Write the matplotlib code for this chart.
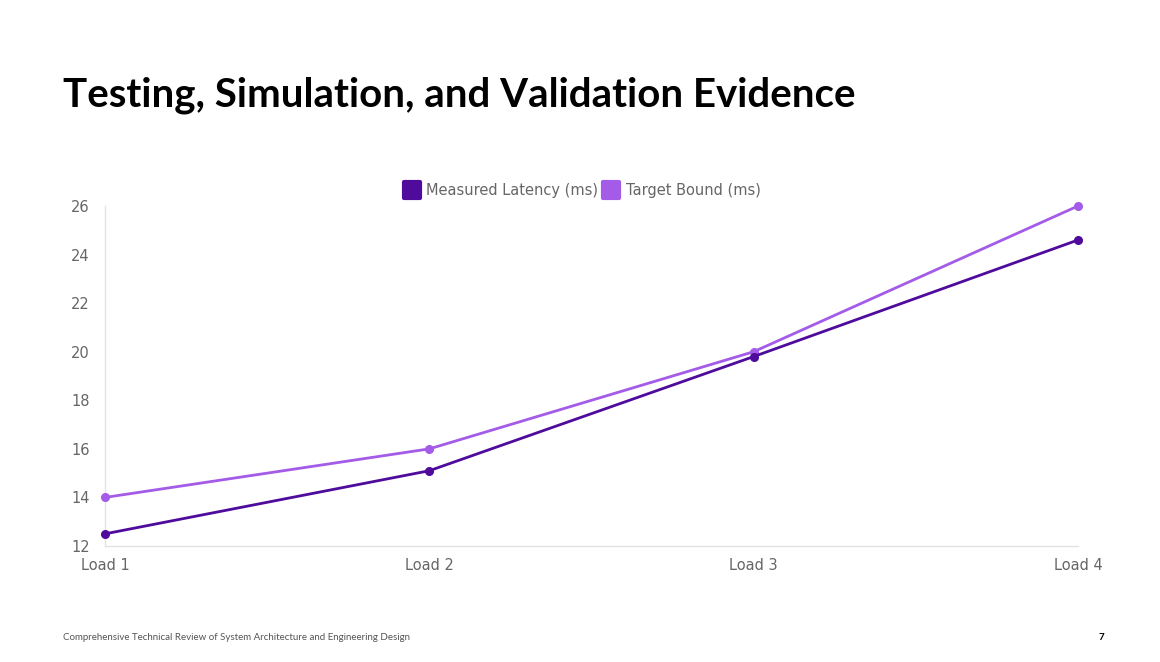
import matplotlib
matplotlib.use("Agg")
import matplotlib.pyplot as plt
from matplotlib.lines import Line2D
from matplotlib.markers import MarkerStyle

categories = ["Load 1", "Load 2", "Load 3", "Load 4"]
measured = [12.5, 15.1, 19.8, 24.6]
target = [14, 16, 20, 26]
y_ticks = [12, 14, 16, 18, 20, 22, 24, 26]

c_meas = "#4E0B9C"
c_targ = "#A35BE8"
tick_col = "#666666"

fig = plt.figure(figsize=(11.6, 6.62), dpi=100)
W, H = 1160, 662
ax = fig.add_axes([105 / W, 1 - 546 / H, (1078 - 105) / W, (546 - 206) / H])

x = list(range(len(categories)))
ax.plot(x, target, color=c_targ, lw=2.0, marker="o", ms=5.5, zorder=3, clip_on=False)
ax.plot(x, measured, color=c_meas, lw=2.0, marker="o", ms=5.5, zorder=4, clip_on=False)

ax.set_xlim(0, 3)
ax.set_ylim(12, 26)
ax.set_xticks(x)
ax.set_xticklabels(categories)
ax.set_yticks(y_ticks)
ax.tick_params(axis="both", length=0, labelsize=10.5, colors=tick_col, pad=11)
ax.tick_params(axis="x", pad=8.5)
for s in ["top", "right"]:
    ax.spines[s].set_visible(False)
for s in ["left", "bottom"]:
    ax.spines[s].set_color("#e3e3e3")
    ax.spines[s].set_linewidth(1)

ms_round = MarkerStyle("s", joinstyle="round")
handles = [
    Line2D([], [], ls="none", marker=ms_round, ms=11, mfc=c_meas, mec=c_meas, mew=3),
    Line2D([], [], ls="none", marker=ms_round, ms=11, mfc=c_targ, mec=c_targ, mew=3),
]
leg = fig.legend(handles, ["Measured Latency (ms)", "Target Bound (ms)"],
                 loc="center", bbox_to_anchor=(582 / W, 1 - 191 / H), ncol=2,
                 frameon=False, fontsize=10.5, handlelength=1.2, handletextpad=0.4,
                 columnspacing=0.3, labelcolor=tick_col)

fig.text(63 / W, 1 - 95 / H, "Testing, Simulation, and Validation Evidence",
         fontsize=29, fontweight="bold", family="Lato", va="center", ha="left", color="#000000")
fig.text(63 / W, 1 - 637 / H, "Comprehensive Technical Review of System Architecture and Engineering Design",
         fontsize=7, family="Lato", va="center", ha="left", color="#555555")
fig.text(1104 / W, 1 - 637 / H, "7", fontsize=7, family="Lato", va="center", ha="right",
         color="#000000", fontweight="bold")

fig.savefig("out.png", dpi=100, facecolor="white")
